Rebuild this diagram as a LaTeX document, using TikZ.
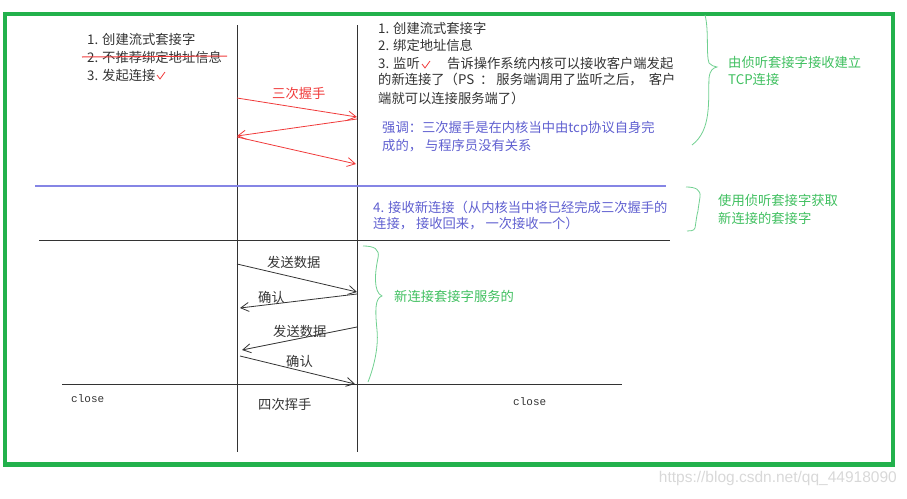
\documentclass[tikz,border=0pt]{standalone}
\usepackage{fontspec}
\newfontfamily\cjk{Noto Sans CJK SC}
\newfontfamily\closefont{Liberation Mono}
\newfontfamily\markfont{Liberation Sans}
\usetikzlibrary{arrows.meta}
\definecolor{ink}{HTML}{333333}
\definecolor{framegreen}{HTML}{22B14C}
\definecolor{bracegreen}{HTML}{70D090}
\definecolor{notegreen}{HTML}{3FBF5F}
\definecolor{noteblue}{HTML}{5F5FD0}
\definecolor{lineblue}{HTML}{8585E5}
\definecolor{shakered}{HTML}{F03A3A}
\definecolor{marktext}{HTML}{D8D8D8}
\begin{document}
\begin{tikzpicture}[x=1pt,y=1pt]
	\tikzstyle{every node}+=[inner sep=0pt]
	\tikzstyle{txt}=[anchor=west, font=\cjk\fontsize{13.3}{16}\selectfont, text=ink]
	\tikzstyle{bluetxt}=[txt, text=noteblue]
	\tikzstyle{greentxt}=[txt, text=notegreen]
	\tikzstyle{redtxt}=[txt, text=shakered]
	\tikzstyle{closetxt}=[anchor=west, font=\closefont\fontsize{11}{13}\selectfont, text=ink]
	\tikzstyle{shake}=[shakered, line width=0.8pt, -{Straight Barb[length=8pt,width=9pt]}]
	\tikzstyle{msg}=[ink, line width=0.8pt, -{Straight Barb[length=8pt,width=9pt]}]
	\tikzstyle{brace}=[bracegreen, line width=0.8pt]
	\useasboundingbox (0,0) rectangle (907,-498);
	\draw [framegreen, line width=4.5pt] (5,-14) rectangle (893,-464.5);

	\coordinate (ct) at (237,-25);
	\coordinate (cb) at (237,-452);
	\coordinate (st) at (357,-25);
	\coordinate (sb) at (357,-452);
	\draw [ink, line width=1pt] (ct) -- (cb);
	\draw [ink, line width=1pt] (st) -- (sb);

	\coordinate (bl1) at (35,-186);
	\coordinate (bl2) at (666,-186);
	\draw [lineblue, line width=1.2pt] (bl1) -- (bl2);
	\coordinate (kl1) at (39,-240);
	\coordinate (kl2) at (670,-240);
	\draw [ink, line width=1pt] (kl1) -- (kl2);
	\coordinate (el1) at (62,-384);
	\coordinate (el2) at (622,-384);
	\draw [ink, line width=0.9pt] (el1) -- (el2);

	\draw (87,-39) node [txt] (cl1) {1. 创建流式套接字};
	\draw (87,-57) node [txt] (cl2) {2. 不推荐绑定地址信息};
	\draw (87,-75) node [txt] (cl3) {3. 发起连接};
	\draw [shakered, line width=1pt] (82,-57) -- (227,-56);
	\draw [shakered, line width=0.8pt] (157,-75) -- (160,-79) -- (165,-72);

	\draw (378,-28) node [txt] (sv1) {1. 创建流式套接字};
	\draw (378,-45) node [txt] (sv2) {2. 绑定地址信息};
	\draw (378,-63) node [txt] (sv3) {3. 监听};
	\draw [shakered, line width=0.8pt] (422,-64) -- (425,-68) -- (430,-61);
	\draw (447,-63) node [txt] (sv3b) {告诉操作系统内核可以接收客户端发起};
	\draw (378,-80) node [txt] (sv4) {的新连接了（PS\hspace{6pt}：\hspace{3pt}服务端调用了监听之后，\hspace{6pt}客户};
	\draw (378,-98) node [txt] (sv5) {端就可以连接服务端了）};

	\draw (382,-128) node [bluetxt] (nt1) {强调：三次握手是在内核当中由tcp协议自身完};
	\draw (382,-146) node [bluetxt] (nt2) {成的， 与程序员没有关系};

	\draw (373,-207) node [bluetxt] (ac1) {4. 接收新连接（从内核当中将已经完成三次握手的};
	\draw (373,-224) node [bluetxt] (ac2) {连接， 接收回来， 一次接收一个）};

	\draw [brace] (705,-15) .. controls (709,-30) and (706,-55) .. (709,-63) .. controls (711,-66) and (714,-66) .. (717,-67) .. controls (713,-68) and (710,-70) .. (709,-78) .. controls (708,-100) and (712,-130) .. (692,-145);
	\draw (728,-62) node [greentxt] (lg1) {由侦听套接字接收建立};
	\draw (728,-79) node [greentxt] (lg2) {TCP连接};

	\draw [brace] (686,-187) .. controls (696,-187) and (701,-190) .. (700,-197) .. controls (699,-204) and (698,-209) .. (698,-211) .. controls (697,-213) and (696,-222) .. (695,-228) .. controls (694,-231) and (690,-231) .. (687,-231);
	\draw (718,-200) node [greentxt] (lg3) {使用侦听套接字获取};
	\draw (718,-218) node [greentxt] (lg4) {新连接的套接字};

	\draw [brace] (363,-246) .. controls (374,-246) and (380,-249) .. (378,-258) .. controls (375,-272) and (373,-292) .. (382,-296) .. controls (375,-298) and (375,-310) .. (377,-330) .. controls (379,-350) and (372,-372) .. (368,-382);
	\draw (394,-296) node [greentxt] (lg5) {新连接套接字服务的};

	\coordinate (h1c) at (237,-98);
	\coordinate (h1s) at (357,-117);
	\coordinate (h2s) at (357,-119);
	\coordinate (h2c) at (237,-136);
	\coordinate (h3c) at (237,-137);
	\coordinate (h3s) at (356,-164);
	\draw [shake] (h1c) -- (h1s);
	\draw [shake] (h2s) -- (h2c);
	\draw [shake] (h3c) -- (h3s);
	\draw (272,-93) node [redtxt] (hs) {三次握手};

	\coordinate (d1c) at (237,-264);
	\coordinate (d1s) at (357,-292);
	\coordinate (d2s) at (357,-294);
	\coordinate (d2c) at (240,-308);
	\coordinate (d3s) at (357,-327);
	\coordinate (d3c) at (242,-350);
	\coordinate (d4c) at (240,-356);
	\coordinate (d4s) at (355,-384);
	\draw [msg] (d1c) -- (d1s);
	\draw [msg] (d2s) -- (d2c);
	\draw [msg] (d3s) -- (d3c);
	\draw [msg] (d4c) -- (d4s);
	\draw (267,-262) node [txt] (snd1) {发送数据};
	\draw (258,-297) node [txt] (ack1) {确认};
	\draw (273,-331) node [txt] (snd2) {发送数据};
	\draw (286,-361) node [txt] (ack2) {确认};

	\draw (71,-399) node [closetxt] (cc) {close};
	\draw (258,-404) node [txt] (fw) {四次挥手};
	\draw (513,-402) node [closetxt] (sc) {close};

	\draw (897,-478) node [anchor=east, font=\markfont\fontsize{15.5}{18}\selectfont, text=marktext] (wm) {https://blog.csdn.net/qq\_44918090};
\end{tikzpicture}
\end{document}
